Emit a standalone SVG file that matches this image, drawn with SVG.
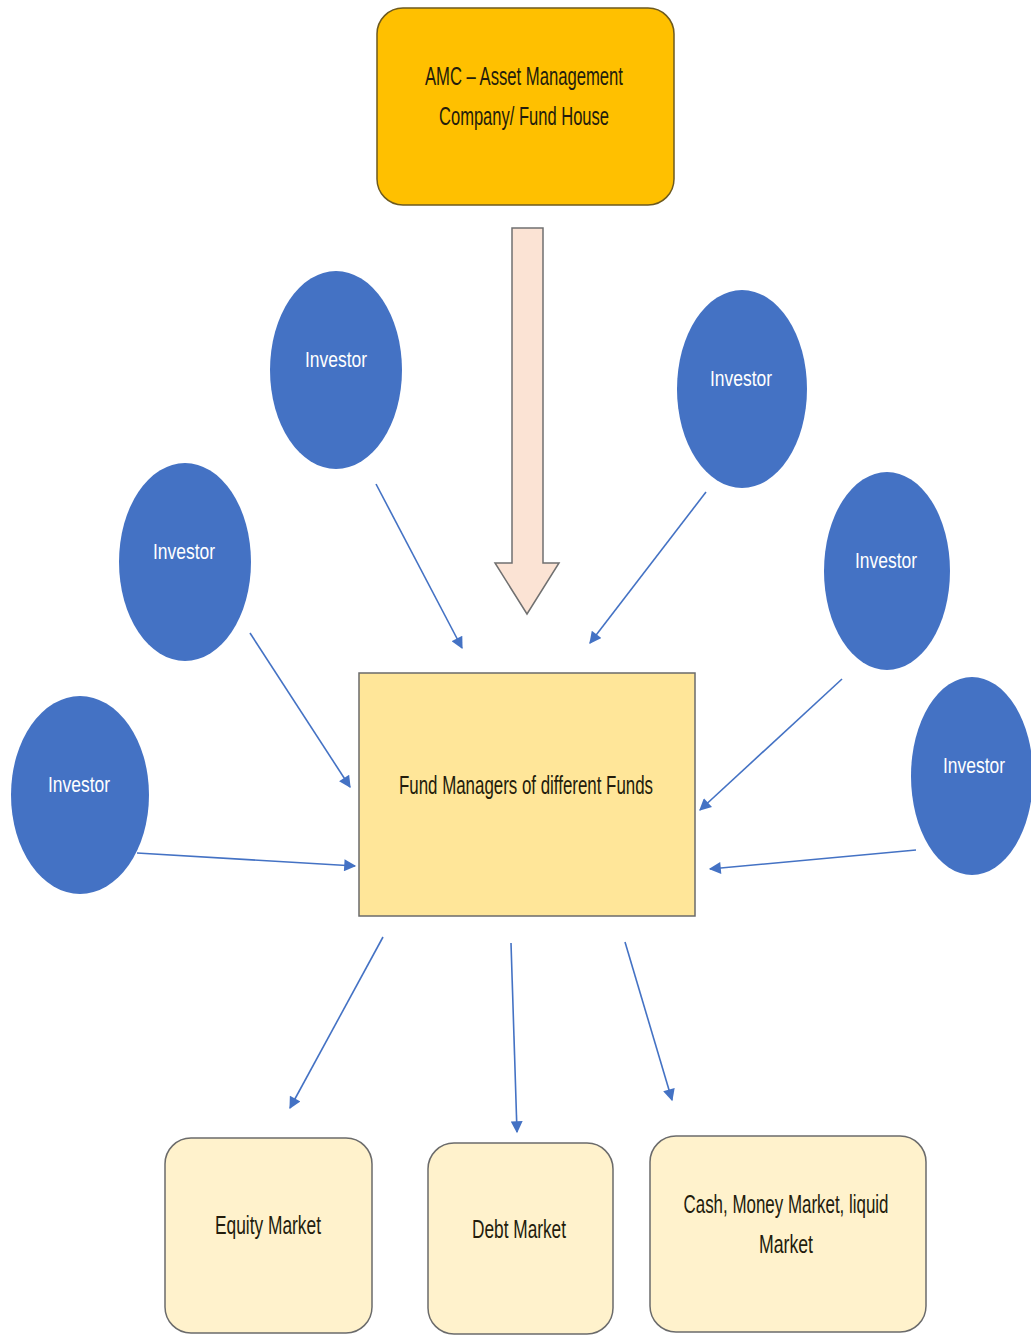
<svg xmlns="http://www.w3.org/2000/svg" width="1031" height="1335" viewBox="0 0 1031 1335">
  <style>
    .lbl { font-family: "Liberation Sans", Arial, sans-serif; font-size: 26px; fill: #231c0c; text-anchor: middle; }
    .inv { font-family: "Liberation Sans", Arial, sans-serif; font-size: 22px; fill: #ffffff; text-anchor: middle; }
    .investor { fill: #4472C4; }
    .market { fill: #FFF2CC; stroke: #6b6b6b; stroke-width: 1.5; }
    .conn { stroke: #4472C4; stroke-width: 1.6; fill: none; marker-end: url(#tip); }
  </style>
  <defs>
    <marker id="tip" viewBox="0 0 10 10" refX="9" refY="5" markerWidth="13" markerHeight="12" markerUnits="userSpaceOnUse" orient="auto">
      <path d="M0,0 L10,5 L0,10 Z" fill="#4472C4"/>
    </marker>
  </defs>
  <rect width="1031" height="1335" fill="#ffffff"/>

  <!-- Fund house at the top -->
  <g id="amc">
    <rect x="377" y="8" width="297" height="197" rx="26" fill="#FFC000" stroke="#6e5a1e" stroke-width="1.5"/>
    <text class="lbl" x="524" y="85" textLength="198" lengthAdjust="spacingAndGlyphs">AMC – Asset Management</text>
    <text class="lbl" x="524" y="125" textLength="170" lengthAdjust="spacingAndGlyphs">Company/ Fund House</text>
  </g>

  <!-- Block arrow from the fund house down to the fund managers -->
  <g id="amc-arrow">
    <path d="M512,228 L543,228 L543,563 L559,563 L527,614 L495,563 L512,563 Z" fill="#FBE3D4" stroke="#707070" stroke-width="1.5"/>
  </g>

  <!-- Central fund managers box -->
  <g id="fund-managers">
    <rect x="359" y="673" width="336" height="243" fill="#FFE699" stroke="#6b6b6b" stroke-width="1.5"/>
    <text class="lbl" x="526" y="794" textLength="254" lengthAdjust="spacingAndGlyphs">Fund Managers of different Funds</text>
  </g>

  <!-- Investors -->
  <g id="investor-1">
    <ellipse class="investor" cx="336" cy="370" rx="66" ry="99"/>
    <text class="inv" x="336" y="367" textLength="62" lengthAdjust="spacingAndGlyphs">Investor</text>
  </g>
  <g id="investor-2">
    <ellipse class="investor" cx="742" cy="389" rx="65" ry="99"/>
    <text class="inv" x="741" y="386" textLength="62" lengthAdjust="spacingAndGlyphs">Investor</text>
  </g>
  <g id="investor-3">
    <ellipse class="investor" cx="185" cy="562" rx="66" ry="99"/>
    <text class="inv" x="184" y="559" textLength="62" lengthAdjust="spacingAndGlyphs">Investor</text>
  </g>
  <g id="investor-4">
    <ellipse class="investor" cx="887" cy="571" rx="63" ry="99"/>
    <text class="inv" x="886" y="568" textLength="62" lengthAdjust="spacingAndGlyphs">Investor</text>
  </g>
  <g id="investor-5">
    <ellipse class="investor" cx="80" cy="795" rx="69" ry="99"/>
    <text class="inv" x="79" y="792" textLength="62" lengthAdjust="spacingAndGlyphs">Investor</text>
  </g>
  <g id="investor-6">
    <ellipse class="investor" cx="972" cy="776" rx="61" ry="99"/>
    <text class="inv" x="974" y="773" textLength="62" lengthAdjust="spacingAndGlyphs">Investor</text>
  </g>

  <!-- Markets -->
  <g id="equity-market">
    <rect class="market" x="165" y="1138" width="207" height="195" rx="26"/>
    <text class="lbl" x="268" y="1234" textLength="106" lengthAdjust="spacingAndGlyphs">Equity Market</text>
  </g>
  <g id="debt-market">
    <rect class="market" x="428" y="1143" width="185" height="191" rx="26"/>
    <text class="lbl" x="519" y="1238" textLength="94" lengthAdjust="spacingAndGlyphs">Debt Market</text>
  </g>
  <g id="cash-market">
    <rect class="market" x="650" y="1136" width="276" height="196" rx="26"/>
    <text class="lbl" x="786" y="1213" textLength="205" lengthAdjust="spacingAndGlyphs">Cash, Money Market, liquid</text>
    <text class="lbl" x="786" y="1253" textLength="54" lengthAdjust="spacingAndGlyphs">Market</text>
  </g>

  <!-- Connectors -->
  <g id="connectors">
    <line class="conn" x1="376" y1="484" x2="462" y2="648"/>
    <line class="conn" x1="706" y1="492" x2="590" y2="643"/>
    <line class="conn" x1="250" y1="633" x2="350" y2="787"/>
    <line class="conn" x1="842" y1="679" x2="700" y2="810"/>
    <line class="conn" x1="137" y1="853" x2="355" y2="866"/>
    <line class="conn" x1="916" y1="850" x2="710" y2="869"/>
    <line class="conn" x1="383" y1="937" x2="290" y2="1108"/>
    <line class="conn" x1="511" y1="943" x2="517" y2="1132"/>
    <line class="conn" x1="625" y1="942" x2="672" y2="1100"/>
  </g>
</svg>
